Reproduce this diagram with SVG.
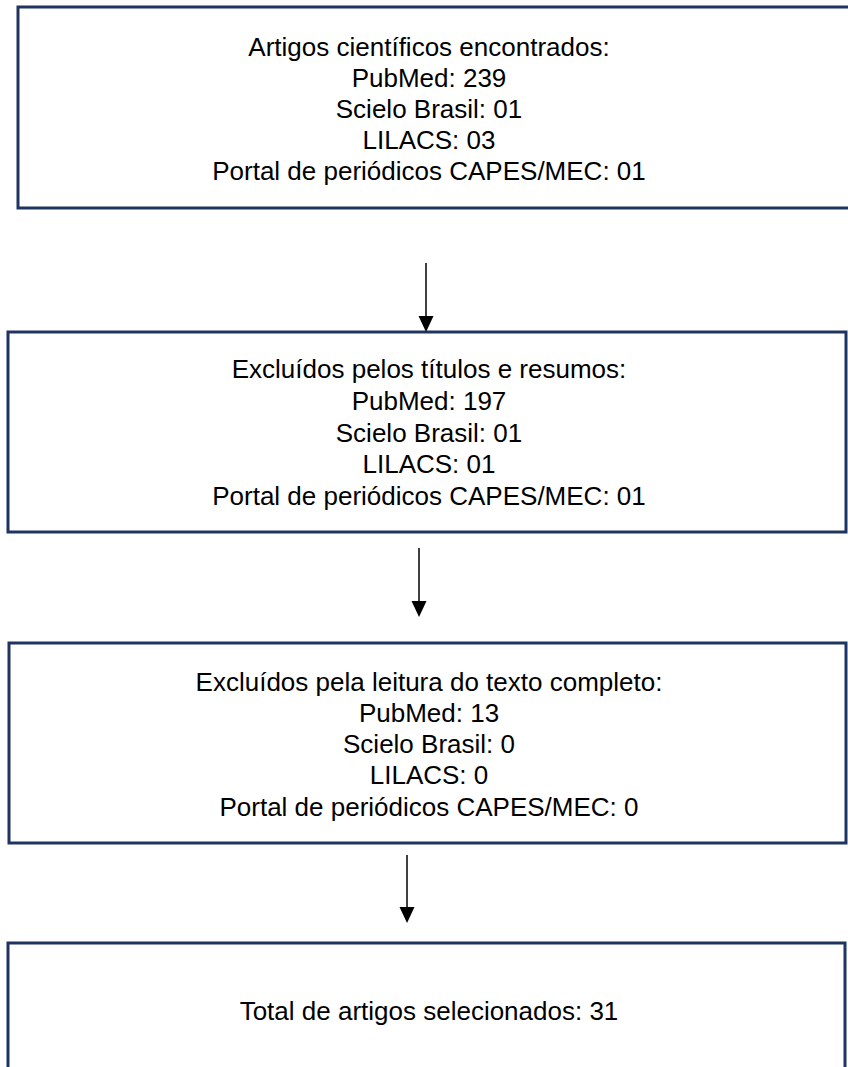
<svg xmlns="http://www.w3.org/2000/svg" width="848" height="1067" viewBox="0 0 848 1067">
<style>
.box{fill:#ffffff;stroke:#1f3560;stroke-width:3}
.t{font-family:"Liberation Sans",Arial,sans-serif;font-size:26px;fill:#000;text-anchor:middle}
.c{stroke:#000;stroke-width:1.5;fill:none}
</style>
<defs>
<marker id="ah" markerWidth="10" markerHeight="10" refX="10" refY="5" orient="auto" markerUnits="userSpaceOnUse" viewBox="0 0 10 10">
<path d="M0,0 L10,5 L0,10 z" fill="#000"/>
</marker>
</defs>
<rect width="848" height="1067" fill="#fff"/>
<g id="node1">
<rect class="box" x="18" y="7" width="840" height="201"/>
<text class="t" x="429" y="56">Artigos científicos encontrados:</text>
<text class="t" x="429" y="87">PubMed: 239</text>
<text class="t" x="429" y="118">Scielo Brasil: 01</text>
<text class="t" x="429" y="149">LILACS: 03</text>
<text class="t" x="429" y="180">Portal de periódicos CAPES/MEC: 01</text>
</g>
<g id="node2">
<rect class="box" x="8" y="332" width="838" height="200"/>
<text class="t" x="429" y="378">Excluídos pelos títulos e resumos:</text>
<text class="t" x="429" y="410">PubMed: 197</text>
<text class="t" x="429" y="442">Scielo Brasil: 01</text>
<text class="t" x="429" y="473">LILACS: 01</text>
<text class="t" x="429" y="505">Portal de periódicos CAPES/MEC: 01</text>
</g>
<g id="node3">
<rect class="box" x="9" y="643" width="837" height="200"/>
<text class="t" x="429" y="691">Excluídos pela leitura do texto completo:</text>
<text class="t" x="429" y="722">PubMed: 13</text>
<text class="t" x="429" y="753">Scielo Brasil: 0</text>
<text class="t" x="429" y="784">LILACS: 0</text>
<text class="t" x="429" y="816">Portal de periódicos CAPES/MEC: 0</text>
</g>
<g id="node4">
<rect class="box" x="8" y="943" width="837" height="140"/>
<text class="t" x="429" y="1020">Total de artigos selecionados: 31</text>
</g>
<g id="connectors">
<line class="c" x1="426" y1="263" x2="426" y2="317"/>
<path d="M418.5,316 L433.5,316 L426,332 z" fill="#000"/>
<line class="c" x1="419" y1="548" x2="419" y2="602"/>
<path d="M411.5,601 L426.5,601 L419,617 z" fill="#000"/>
<line class="c" x1="407" y1="855" x2="407" y2="908"/>
<path d="M399.5,907 L414.5,907 L407,923 z" fill="#000"/>
</g>
</svg>
